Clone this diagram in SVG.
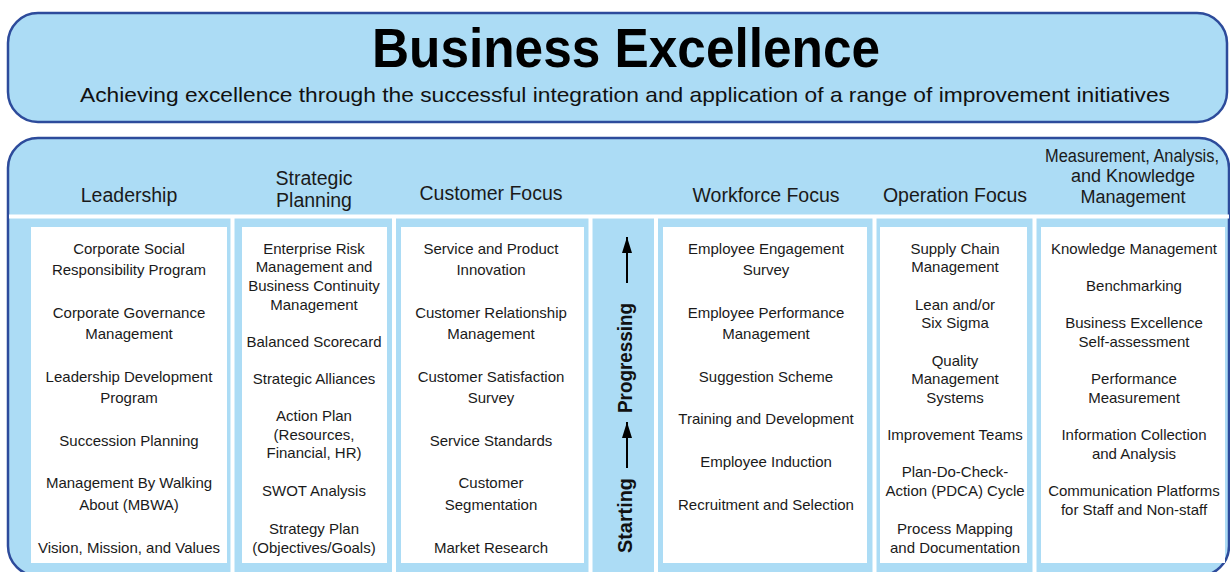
<svg xmlns="http://www.w3.org/2000/svg" width="1230" height="572" viewBox="0 0 1230 572">
<defs>
<style>
.panel{fill:#acdcf5;stroke:#2d4b9b;stroke-width:2.5}
.sep{stroke:#ffffff;stroke-width:4}
.box{fill:#ffffff}
.hd{font-family:"Liberation Sans",Arial,sans-serif;font-size:19.5px;fill:#1a1a1a;text-anchor:middle}
.hd2{font-family:"Liberation Sans",Arial,sans-serif;font-size:18px;fill:#1a1a1a;text-anchor:middle}
.it{font-family:"Liberation Sans",Arial,sans-serif;font-size:15px;fill:#1a1a1a;text-anchor:middle}
.ax{font-family:"Liberation Sans",Arial,sans-serif;font-size:20px;font-weight:bold;fill:#111111}
.arr{stroke:#000000;stroke-width:2;fill:none}
</style>
<marker id="ah" viewBox="0 0 16 10" refX="16" refY="5" markerWidth="8" markerHeight="5" markerUnits="strokeWidth" orient="auto">
<path d="M0,0 L16,5 L0,10 z" fill="#000000"/>
</marker>
</defs>
<rect width="1230" height="572" fill="#ffffff"/>
<g id="title">
<rect class="panel" x="8" y="13" width="1219" height="109" rx="30" ry="30"/>
<text x="626" y="67" font-family="'Liberation Sans',Arial,sans-serif" font-size="55" font-weight="bold" fill="#000000" text-anchor="middle" textLength="508" lengthAdjust="spacingAndGlyphs">Business Excellence</text>
<text x="625" y="102" font-family="'Liberation Sans',Arial,sans-serif" font-size="21" fill="#111111" text-anchor="middle" textLength="1090" lengthAdjust="spacingAndGlyphs">Achieving excellence through the successful integration and application of a range of improvement initiatives</text>
</g>
<g id="frame">
<rect class="panel" x="8" y="138" width="1221" height="438" rx="30" ry="30"/>
<line class="sep" x1="9" y1="216.5" x2="1229" y2="216.5" stroke-width="3"/>
<line class="sep" x1="232.5" y1="218" x2="232.5" y2="575"/>
<line class="sep" x1="394" y1="218" x2="394" y2="575"/>
<line class="sep" x1="590.5" y1="218" x2="590.5" y2="575"/>
<line class="sep" x1="656" y1="218" x2="656" y2="575"/>
<line class="sep" x1="874.5" y1="218" x2="874.5" y2="575"/>
<line class="sep" x1="1034.5" y1="218" x2="1034.5" y2="575"/>
</g>
<g id="leadership">
<text class="hd" x="129" y="202">Leadership</text>
<rect class="box" x="31" y="227" width="196" height="336"/>
<text class="it"><tspan x="129" y="254">Corporate Social</tspan><tspan x="129" y="275">Responsibility Program</tspan></text>
<text class="it"><tspan x="129" y="318">Corporate Governance</tspan><tspan x="129" y="339">Management</tspan></text>
<text class="it"><tspan x="129" y="382">Leadership Development</tspan><tspan x="129" y="403">Program</tspan></text>
<text class="it" x="129" y="446">Succession Planning</text>
<text class="it"><tspan x="129" y="488">Management By Walking</tspan><tspan x="129" y="510">About (MBWA)</tspan></text>
<text class="it" x="129" y="553">Vision, Mission, and Values</text>
</g>
<g id="strategic-planning">
<text class="hd"><tspan x="314" y="185">Strategic</tspan><tspan x="314" y="207">Planning</tspan></text>
<rect class="box" x="242" y="227" width="145" height="336"/>
<text class="it"><tspan x="314" y="254">Enterprise Risk</tspan><tspan x="314" y="272">Management and</tspan><tspan x="314" y="291">Business Continuity</tspan><tspan x="314" y="310">Management</tspan></text>
<text class="it" x="314" y="347">Balanced Scorecard</text>
<text class="it" x="314" y="384">Strategic Alliances</text>
<text class="it"><tspan x="314" y="421">Action Plan</tspan><tspan x="314" y="440">(Resources,</tspan><tspan x="314" y="458">Financial, HR)</tspan></text>
<text class="it" x="314" y="496">SWOT Analysis</text>
<text class="it"><tspan x="314" y="534">Strategy Plan</tspan><tspan x="314" y="553">(Objectives/Goals)</tspan></text>
</g>
<g id="customer-focus">
<text class="hd" x="491" y="200">Customer Focus</text>
<rect class="box" x="401" y="227" width="183" height="336"/>
<text class="it"><tspan x="491" y="254">Service and Product</tspan><tspan x="491" y="275">Innovation</tspan></text>
<text class="it"><tspan x="491" y="318">Customer Relationship</tspan><tspan x="491" y="339">Management</tspan></text>
<text class="it"><tspan x="491" y="382">Customer Satisfaction</tspan><tspan x="491" y="403">Survey</tspan></text>
<text class="it" x="491" y="446">Service Standards</text>
<text class="it"><tspan x="491" y="488">Customer</tspan><tspan x="491" y="510">Segmentation</tspan></text>
<text class="it" x="491" y="553">Market Research</text>
</g>
<g id="maturity-axis">
<text class="ax" transform="translate(632,553) rotate(-90)" textLength="75" lengthAdjust="spacingAndGlyphs">Starting</text>
<text class="ax" transform="translate(632,413) rotate(-90)" textLength="110" lengthAdjust="spacingAndGlyphs">Progressing</text>
</g>
<g id="workforce-focus">
<text class="hd" x="766" y="202">Workforce Focus</text>
<rect class="box" x="663" y="227" width="204" height="336"/>
<text class="it"><tspan x="766" y="254">Employee Engagement</tspan><tspan x="766" y="275">Survey</tspan></text>
<text class="it"><tspan x="766" y="318">Employee Performance</tspan><tspan x="766" y="339">Management</tspan></text>
<text class="it" x="766" y="382">Suggestion Scheme</text>
<text class="it" x="766" y="424">Training and Development</text>
<text class="it" x="766" y="467">Employee Induction</text>
<text class="it" x="766" y="510">Recruitment and Selection</text>
</g>
<g id="operation-focus">
<text class="hd" x="955" y="202">Operation Focus</text>
<rect class="box" x="880" y="227" width="147" height="336"/>
<text class="it"><tspan x="955" y="254">Supply Chain</tspan><tspan x="955" y="272">Management</tspan></text>
<text class="it"><tspan x="955" y="310">Lean and/or</tspan><tspan x="955" y="328">Six Sigma</tspan></text>
<text class="it"><tspan x="955" y="366">Quality</tspan><tspan x="955" y="384">Management</tspan><tspan x="955" y="403">Systems</tspan></text>
<text class="it" x="955" y="440">Improvement Teams</text>
<text class="it"><tspan x="955" y="477">Plan-Do-Check-</tspan><tspan x="955" y="496">Action (PDCA) Cycle</tspan></text>
<text class="it"><tspan x="955" y="534">Process Mapping</tspan><tspan x="955" y="553">and Documentation</tspan></text>
</g>
<g id="measurement-analysis-knowledge">
<text class="hd2"><tspan x="1132" y="162" textLength="174" lengthAdjust="spacingAndGlyphs">Measurement, Analysis,</tspan><tspan x="1133" y="182">and Knowledge</tspan><tspan x="1133" y="203">Management</tspan></text>
<rect class="box" x="1041" y="227" width="184" height="336"/>
<text class="it" x="1134" y="254">Knowledge Management</text>
<text class="it" x="1134" y="291">Benchmarking</text>
<text class="it"><tspan x="1134" y="328">Business Excellence</tspan><tspan x="1134" y="347">Self-assessment</tspan></text>
<text class="it"><tspan x="1134" y="384">Performance</tspan><tspan x="1134" y="403">Measurement</tspan></text>
<text class="it"><tspan x="1134" y="440">Information Collection</tspan><tspan x="1134" y="459">and Analysis</tspan></text>
<text class="it"><tspan x="1134" y="496">Communication Platforms</tspan><tspan x="1134" y="515">for Staff and Non-staff</tspan></text>
</g>
<g id="connectors">
<line class="arr" x1="627" y1="468" x2="627" y2="422" marker-end="url(#ah)"/>
<line class="arr" x1="627" y1="283" x2="627" y2="237" marker-end="url(#ah)"/>
</g>
</svg>
